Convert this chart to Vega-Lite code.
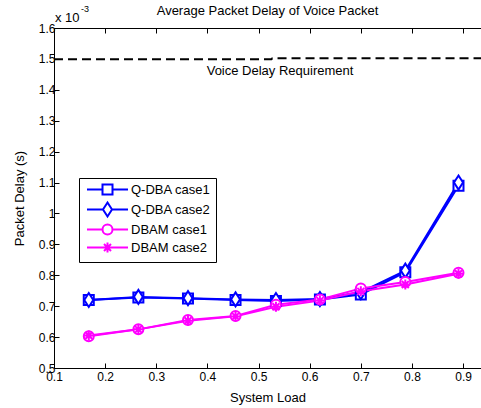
{
  "$schema": "https://vega.github.io/schema/vega-lite/v6.json",
  "width": 427,
  "height": 340,
  "autosize": {"type": "none"},
  "padding": {"left": 54, "top": 28, "right": 0, "bottom": 40},
  "background": "white",
  "config": {
    "view": {"stroke": null},
    "font": "Liberation Sans",
    "axis": {
      "grid": false,
      "domainColor": "black",
      "tickColor": "black",
      "labelColor": "black",
      "titleColor": "black",
      "labelFont": "Liberation Sans",
      "labelFontSize": 12,
      "titleFont": "Liberation Sans",
      "titleFontSize": 13,
      "titleFontWeight": "normal",
      "tickSize": -5,
      "labelPadding": 4,
      "labelOverlap": false,
      "labelFlush": false,
      "labelBound": false,
      "domainWidth": 1,
      "tickWidth": 1
    }
  },
  "title": {
    "text": "Average Packet Delay of Voice Packet",
    "font": "Liberation Sans",
    "fontSize": 13,
    "fontWeight": "normal",
    "color": "black",
    "anchor": "middle",
    "offset": -13
  },
  "datasets": {
    "req": [
      {"x": 0.1, "y": 1.4985},
      {"x": 0.525, "y": 1.4985},
      {"x": 0.527, "y": 1.502},
      {"x": 0.935, "y": 1.502}
    ],
    "d": [
      {"series": "Q-DBA case1", "x": 0.168, "y": 0.72},
      {"series": "Q-DBA case1", "x": 0.265, "y": 0.728},
      {"series": "Q-DBA case1", "x": 0.362, "y": 0.725},
      {"series": "Q-DBA case1", "x": 0.455, "y": 0.72},
      {"series": "Q-DBA case1", "x": 0.534, "y": 0.717},
      {"series": "Q-DBA case1", "x": 0.62, "y": 0.722},
      {"series": "Q-DBA case1", "x": 0.7, "y": 0.738},
      {"series": "Q-DBA case1", "x": 0.787, "y": 0.81},
      {"series": "Q-DBA case1", "x": 0.891, "y": 1.09},
      {"series": "Q-DBA case2", "x": 0.168, "y": 0.72},
      {"series": "Q-DBA case2", "x": 0.265, "y": 0.73},
      {"series": "Q-DBA case2", "x": 0.362, "y": 0.726},
      {"series": "Q-DBA case2", "x": 0.455, "y": 0.722},
      {"series": "Q-DBA case2", "x": 0.534, "y": 0.72},
      {"series": "Q-DBA case2", "x": 0.62, "y": 0.723},
      {"series": "Q-DBA case2", "x": 0.7, "y": 0.745},
      {"series": "Q-DBA case2", "x": 0.787, "y": 0.815},
      {"series": "Q-DBA case2", "x": 0.891, "y": 1.1},
      {"series": "DBAM case1", "x": 0.168, "y": 0.603},
      {"series": "DBAM case1", "x": 0.265, "y": 0.625},
      {"series": "DBAM case1", "x": 0.362, "y": 0.655},
      {"series": "DBAM case1", "x": 0.455, "y": 0.668},
      {"series": "DBAM case1", "x": 0.534, "y": 0.705},
      {"series": "DBAM case1", "x": 0.62, "y": 0.722},
      {"series": "DBAM case1", "x": 0.7, "y": 0.757},
      {"series": "DBAM case1", "x": 0.787, "y": 0.778},
      {"series": "DBAM case1", "x": 0.891, "y": 0.808},
      {"series": "DBAM case2", "x": 0.168, "y": 0.605},
      {"series": "DBAM case2", "x": 0.265, "y": 0.625},
      {"series": "DBAM case2", "x": 0.362, "y": 0.653},
      {"series": "DBAM case2", "x": 0.455, "y": 0.667},
      {"series": "DBAM case2", "x": 0.534, "y": 0.698},
      {"series": "DBAM case2", "x": 0.62, "y": 0.718},
      {"series": "DBAM case2", "x": 0.7, "y": 0.748},
      {"series": "DBAM case2", "x": 0.787, "y": 0.77},
      {"series": "DBAM case2", "x": 0.891, "y": 0.805}
    ],
    "leg": [
      {"series": "Q-DBA case1", "x": 0.5, "y": 0.0},
      {"series": "Q-DBA case2", "x": 0.5, "y": 0.0},
      {"series": "DBAM case1", "x": 0.5, "y": 0.0},
      {"series": "DBAM case2", "x": 0.5, "y": 0.0}
    ]
  },
  "resolve": {
    "scale": {"color": "independent", "shape": "independent", "stroke": "independent", "fill": "independent"},
    "axis": {"x": "independent", "y": "independent"}
  },
  "layer": [
    {
      "data": {"name": "req"},
      "mark": {"type": "line", "color": "black", "strokeDash": [9, 5], "strokeWidth": 2, "clip": true},
      "encoding": {
        "x": {
          "field": "x", "type": "quantitative",
          "scale": {"domain": [0.1, 0.935], "nice": false, "zero": false},
          "axis": {"values": [0.1, 0.2, 0.3, 0.4, 0.5, 0.6, 0.7, 0.8, 0.9], "format": ".1~f", "title": "System Load", "titlePadding": 9, "labelPadding": 8, "labelOverlap": false}
        },
        "y": {
          "field": "y", "type": "quantitative",
          "scale": {"domain": [0.5, 1.6], "nice": false, "zero": false},
          "axis": {"values": [0.5, 0.6, 0.7, 0.8, 0.9, 1, 1.1, 1.2, 1.3, 1.4, 1.5, 1.6], "format": ".1~f", "title": "Packet Delay (s)", "titlePadding": 12, "labelOverlap": false}
        }
      }
    },
    {
      "data": {"name": "req"},
      "mark": {"type": "point", "opacity": 0},
      "encoding": {
        "x": {
          "field": "x", "type": "quantitative",
          "axis": {"orient": "top", "values": [0.1, 0.2, 0.3, 0.4, 0.5, 0.6, 0.7, 0.8, 0.9], "labels": false, "title": null}
        },
        "y": {"field": "y", "type": "quantitative", "axis": null}
      }
    },
    {
      "data": {"values": [{"x": 0.542, "y": 1.46, "t": "Voice Delay Requirement"}]},
      "mark": {"type": "text", "fontSize": 13, "font": "Liberation Sans", "color": "black"},
      "encoding": {
        "x": {"field": "x", "type": "quantitative", "axis": null},
        "y": {"field": "y", "type": "quantitative", "axis": null},
        "text": {"field": "t"}
      }
    },
    {
      "data": {"values": [{"x": 0.1, "y": 1.6, "t": "x 10"}]},
      "mark": {"type": "text", "fontSize": 13, "font": "Liberation Sans", "color": "black", "align": "left", "dx": 1, "dy": -10},
      "encoding": {
        "x": {"field": "x", "type": "quantitative", "axis": null},
        "y": {"field": "y", "type": "quantitative", "axis": null},
        "text": {"field": "t"}
      }
    },
    {
      "data": {"values": [{"x": 0.1, "y": 1.6, "t": "-3"}]},
      "mark": {"type": "text", "fontSize": 9, "font": "Liberation Sans", "color": "black", "align": "left", "dx": 27, "dy": -19},
      "encoding": {
        "x": {"field": "x", "type": "quantitative", "axis": null},
        "y": {"field": "y", "type": "quantitative", "axis": null},
        "text": {"field": "t"}
      }
    },
    {
      "data": {"name": "d"},
      "mark": {"type": "line", "strokeWidth": 2, "clip": true},
      "encoding": {
        "x": {"field": "x", "type": "quantitative", "axis": null},
        "y": {"field": "y", "type": "quantitative", "axis": null},
        "color": {
          "field": "series", "type": "nominal",
          "scale": {"domain": ["Q-DBA case1", "Q-DBA case2", "DBAM case1", "DBAM case2"], "range": ["#0000ff", "#0000ff", "#ff00ff", "#ff00ff"]},
          "legend": null
        }
      }
    },
    {
      "data": {"name": "d"},
      "mark": {"type": "point", "strokeWidth": 2, "size": 100, "opacity": 1, "clip": true},
      "encoding": {
        "x": {"field": "x", "type": "quantitative", "axis": null},
        "y": {"field": "y", "type": "quantitative", "axis": null},
        "stroke": {
          "field": "series", "type": "nominal",
          "scale": {"domain": ["Q-DBA case1", "Q-DBA case2", "DBAM case1", "DBAM case2"], "range": ["#0000ff", "#0000ff", "#ff00ff", "#ff00ff"]},
          "legend": null
        },
        "fill": {
          "field": "series", "type": "nominal",
          "scale": {"domain": ["Q-DBA case1", "Q-DBA case2", "DBAM case1", "DBAM case2"], "range": ["white", "white", "white", "transparent"]},
          "legend": null
        },
        "shape": {
          "field": "series", "type": "nominal",
          "scale": {"domain": ["Q-DBA case1", "Q-DBA case2", "DBAM case1", "DBAM case2"], "range": ["M-1,-1H1V1H-1Z", "M0,-1.4L0.9,0L0,1.4L-0.9,0Z", "circle", "M-1,0H1M0,-1V1M-0.7,-0.7L0.7,0.7M-0.7,0.7L0.7,-0.7"]},
          "legend": null
        }
      }
    },
    {
      "data": {"name": "leg"},
      "mark": {"type": "point", "strokeWidth": 2, "size": 100, "opacity": 1, "fill": "white", "filled": false, "clip": true},
      "encoding": {
        "x": {"field": "x", "type": "quantitative", "axis": null},
        "y": {"field": "y", "type": "quantitative", "axis": null},
        "stroke": {
          "field": "series", "type": "nominal",
          "scale": {"domain": ["Q-DBA case1", "Q-DBA case2", "DBAM case1", "DBAM case2"], "range": ["#0000ff", "#0000ff", "#ff00ff", "#ff00ff"]},
          "legend": {
            "orient": "none", "legendX": 25, "legendY": 150, "title": null,
            "fillColor": "white", "strokeColor": "black", "padding": 5,
            "symbolSize": 100, "symbolStrokeWidth": 2, "symbolOffset": 17, "labelOffset": 17,
            "labelFont": "Liberation Sans", "labelFontSize": 13, "labelColor": "black", "rowPadding": -1,
            "encode": {"symbols": {"update": {"fill": {"value": "white"}}}}
          }
        },
        "shape": {
          "field": "series", "type": "nominal",
          "scale": {"domain": ["Q-DBA case1", "Q-DBA case2", "DBAM case1", "DBAM case2"], "range": ["M-4.1,0H-1M1,0H4.1M-1,-1H1V1H-1Z", "M-4.1,0H-0.9M0.9,0H4.1M0,-1.4L0.9,0L0,1.4L-0.9,0Z", "M-4.1,0H-1M1,0H4.1M1,0A1,1,0,1,1,-1,0A1,1,0,1,1,1,0Z", "M-4.1,0H4.1M0,-1V1M-0.7,-0.7L0.7,0.7M-0.7,0.7L0.7,-0.7"]}
        }
      }
    }
  ]
}
